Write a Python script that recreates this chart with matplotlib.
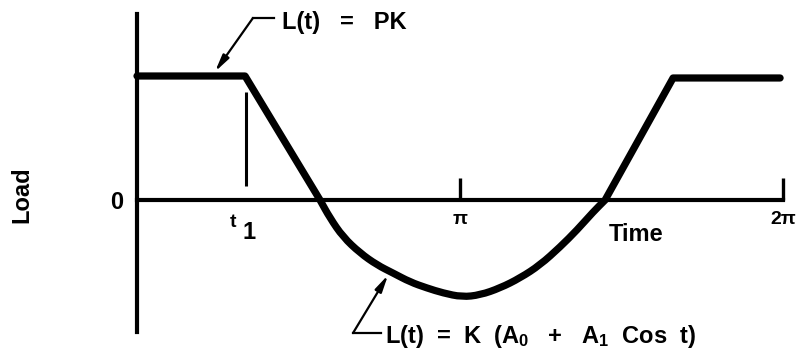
import numpy as np
import matplotlib
matplotlib.use("Agg")
import matplotlib.pyplot as plt
from matplotlib.path import Path
from matplotlib.patches import PathPatch

plt.rcParams["font.family"] = ["Liberation Sans", "DejaVu Sans"]
plt.rcParams["font.weight"] = "bold"
plt.rcParams["mathtext.fontset"] = "custom"
plt.rcParams["mathtext.rm"] = "Liberation Sans:bold"
plt.rcParams["mathtext.it"] = "Liberation Sans:bold"
plt.rcParams["mathtext.bf"] = "Liberation Sans:bold"

# Load history over one cycle: constant plateau PK, then the cosine dip
time_rad = [0.0, 1.051, 1.780, 1.877, 2.004, 2.169, 2.335, 2.490, 2.656, 2.821,
            2.977, 3.161, 3.337, 3.531, 3.726, 3.920, 4.115, 4.280, 4.436, 4.553,
            5.214, 6.255]
load = [1.0, 1.0, 0.0, -0.145, -0.298, -0.427, -0.524, -0.589, -0.661, -0.710,
        -0.750, -0.782, -0.766, -0.710, -0.629, -0.524, -0.379, -0.242, -0.097, 0.0,
        0.984, 0.984]
t1 = 1.06
x_ticks = [np.pi, 2 * np.pi]
x_tick_labels = ["π", "2π"]

fig = plt.figure(figsize=(8, 3.6), dpi=100)
ax = fig.add_axes([137 / 800, 28 / 360, 646 / 800, 318 / 360])
ax.set_xlim(0, 2 * np.pi)
ax.set_ylim(-1.0645, 1.5)

ink = "black"
for side in ("top", "right"):
    ax.spines[side].set_visible(False)
ax.spines["left"].set_linewidth(3.0)
ax.spines["left"].set_color(ink)
ax.spines["bottom"].set_position(("data", 0))
ax.spines["bottom"].set_linewidth(3.0)
ax.spines["bottom"].set_color(ink)

ax.set_xticks(x_ticks)
ax.set_xticklabels(x_tick_labels, fontsize=14, fontweight="bold")
ax.tick_params(axis="x", direction="in", length=16, width=2.4, pad=8, color=ink)
ax.set_yticks([0])
ax.set_yticklabels(["0"], fontsize=17, fontweight="bold")
ax.tick_params(axis="y", length=0, pad=10)

# Load curve: straight plateau and ramps, the dip drawn as a smooth
# quadratic-spline path through the midpoints of the sampled values
pts = list(zip(time_rad, load))
arc_start, arc_end = 2, 19
verts = [pts[0], pts[1], pts[arc_start]]
codes = [Path.MOVETO, Path.LINETO, Path.LINETO]
mid = lambda a, b: ((a[0] + b[0]) / 2, (a[1] + b[1]) / 2)
verts.append(mid(pts[arc_start], pts[arc_start + 1]))
codes.append(Path.LINETO)
for i in range(arc_start + 1, arc_end):
    verts += [pts[i], mid(pts[i], pts[i + 1])]
    codes += [Path.CURVE3, Path.CURVE3]
for p in pts[arc_end:]:
    verts.append(p)
    codes.append(Path.LINETO)
ax.add_patch(PathPatch(Path(verts, codes), fill=False, edgecolor=ink, lw=5.2,
                       joinstyle="round", capstyle="round", clip_on=False,
                       zorder=3))

# Marker line at t1
ax.vlines(t1, 0.113, 0.871, color=ink, lw=2.2)
ax.text(0.934, -0.18, "t", fontsize=14, ha="center", va="center")
ax.text(1.089, -0.26, "1", fontsize=17, ha="center", va="center")

ax.text(4.854, -0.282, "Time", fontsize=17, ha="center", va="center")
fig.text(22 / 800, 1 - 195 / 360, "Load", fontsize=17, rotation=90,
         ha="center", va="center")

arrow_kw = dict(arrowstyle="-|>,head_length=1.0,head_width=0.22", color=ink,
                lw=1.6, shrinkA=0, shrinkB=0)

# Leader for the constant-load segment
ax.plot([1.128, 1.333], [1.468, 1.468], color=ink, lw=1.6, clip_on=False)
ax.annotate("", xy=(0.759, 1.035), xytext=(1.128, 1.468), arrowprops=arrow_kw,
            annotation_clip=False)
ax.text(1.411, 1.435, "L(t)   =   PK", fontsize=17, ha="left", va="center")

# Leader for the cosine segment
ax.plot([2.101, 2.374], [-1.073, -1.073], color=ink, lw=1.6, clip_on=False)
ax.annotate("", xy=(2.442, -0.605), xytext=(2.101, -1.073), arrowprops=arrow_kw,
            annotation_clip=False)
ax.text(2.413, -1.097, "L(t)  =  K  (A$_0$   +   A$_1$  Cos  t)", fontsize=17,
        ha="left", va="center")

fig.savefig("out.png", dpi=100, facecolor="white")
